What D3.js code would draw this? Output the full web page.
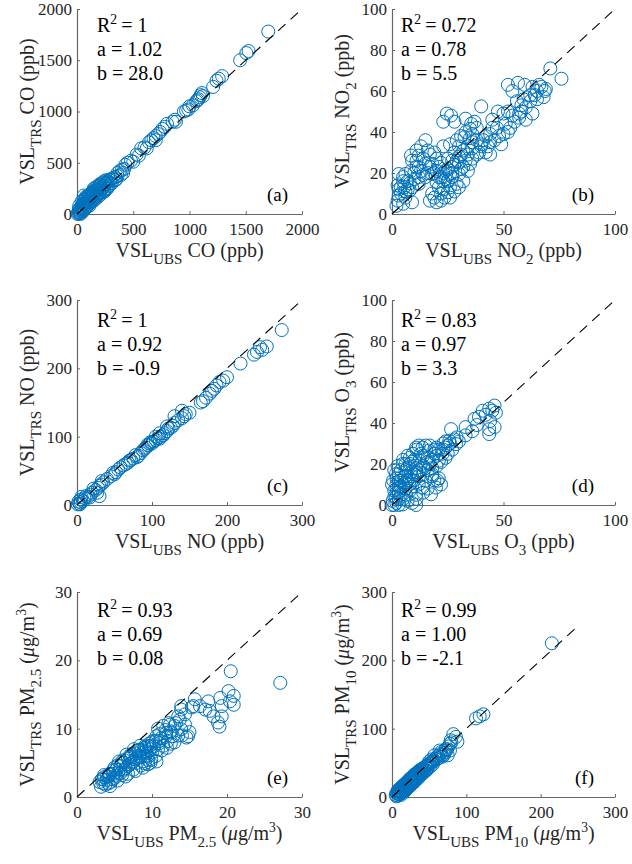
<!DOCTYPE html>
<html>
<head>
<meta charset="utf-8">
<script src="https://cdn.jsdelivr.net/npm/d3@7"></script>
<style>
  body { margin: 0; background: #fff; }
  svg { display: block; }
</style>
</head>
<body>
<svg id="chart"></svg>
<script>
var width = 632;
var height = 864;

// scatter data, [UBS, TRS]
var coPts = [[1700,1780],[1525,1590],[1505,1570],[1450,1500],[1290,1345],[1260,1320],[1240,1300],[1210,1240],[1120,1150],[1110,1180],[1100,1160],[1090,1140],[1080,1120],[1070,1110],[1060,1100],[1030,1060],[1000,1050],[990,1020],[970,1010],[950,1000],[880,900],[870,920],[850,900],[800,880],[780,850],[760,830],[740,800],[720,780],[700,760],[700,720],[680,740],[660,720],[640,700],[620,640],[600,650],[570,640],[550,570],[530,580],[500,510],[480,520],[450,500],[430,480],[420,440],[410,400],[400,430],[390,380],[380,420],[360,400],[360,370],[350,340],[340,360],[340,330],[320,350],[310,300],[300,340],[300,300],[290,330],[280,310],[280,270],[270,320],[270,250],[260,300],[260,250],[260,330],[250,290],[250,310],[240,270],[240,230],[240,320],[245,220],[230,250],[230,210],[220,260],[220,300],[210,240],[210,280],[205,185],[200,270],[200,210],[200,200],[200,290],[190,250],[190,170],[180,230],[180,190],[180,270],[170,200],[170,240],[165,150],[160,220],[160,160],[160,250],[150,250],[150,190],[150,130],[140,180],[140,140],[140,220],[130,170],[130,210],[125,110],[120,150],[120,120],[120,200],[110,190],[110,160],[110,80],[100,130],[100,90],[100,180],[95,170],[90,110],[90,150],[85,70],[80,120],[80,60],[80,170],[75,100],[70,140],[70,90],[70,50],[60,180],[60,100],[60,40],[60,140],[55,70],[50,60],[50,20],[50,100],[45,80],[45,30],[40,50],[40,120],[35,40],[30,60],[30,0],[30,10],[25,30],[20,50],[20,20],[20,80],[15,40],[15,15],[10,10],[5,0]];

var no2Pts = [[71,71],[76,66],[52,63],[54,60],[56.5,64],[59.5,63],[63,62],[66,63],[68.5,60],[68,57],[65,56],[62,55],[59,56],[63,49],[57,49],[54,48],[52,50],[50,49],[40,52.5],[47.5,50],[47,42],[50,39],[52,40],[44,39],[41,36],[43,33],[40,33],[49,34],[45,42],[24.6,49],[23,45],[26.5,48],[28,45],[33,46.5],[35.5,44],[35,41.6],[36,39],[32.5,37.5],[29,36],[26,34],[23,33],[15,36],[13,33],[11,31],[17,29],[12,28.5],[9,26],[11,23],[8.5,21],[6,19.5],[3,19.5],[5,16],[2.5,14],[5.5,13],[8,11.5],[4,10],[6,8],[2.5,6.5],[5,5],[9,13],[12,14.7],[15,18],[18,19.5],[20,15.5],[21,13],[18,10],[17,6.5],[20,5.7],[22,6.5],[23.5,8],[25,10.6],[23,16],[26,19.5],[27,23],[29,26],[30,28],[32,31],[34,29],[36,32],[39,30],[42,30],[44,29],[35,24.5],[32,23],[30,19.5],[27,18],[29,14.7],[32,16],[26,13],[24,21],[21,23],[18,24.5],[17,23],[15,24.5],[12,23],[5,18],[11,26],[8.5,28.5],[2,4],[9,5.7],[22,18],[24,17],[25,22],[27,20],[28,24],[30,25],[31,22],[33,26],[34,33],[36,35],[38,36],[33,40],[31,38],[20,27],[19,30],[16,31],[14,27],[13,21],[10,20],[7,16],[4,13],[3,9],[7,12],[10,17],[12,18],[19,20],[21,18],[23,12],[26,8],[28,11],[30,13],[55,45],[58,50],[60,52],[62,58],[65,60],[67,62],[56,55],[48,38],[46,36],[44,35],[42,38],[38,42],[37,45],[53,42],[51,44],[57,47],[60,46],[34,21],[36,27],[38,29],[40,34],[30,33],[28,30],[25,27],[22,25],[20,21],[23,20],[25,16],[22,10],[19,8],[16,20],[14,19],[8,15],[6,11],[3,12],[27,26],[31,29],[35,37],[45,46],[58,53],[64,58],[69,61]];

var noPts = [[273,256],[253,232],[247,227],[244,231],[240,224],[236,220],[218,207],[200,187],[195,182],[190,180],[186,175],[183,170],[180,167],[177,163],[172,157],[168,152],[165,150],[150,135],[145,133],[143,130],[140,138],[140,127],[135,124],[130,130],[130,120],[128,116],[125,113],[122,112],[120,115],[120,108],[117,105],[115,102],[112,100],[110,105],[110,97],[108,98],[105,100],[105,95],[102,93],[100,90],[98,92],[97,90],[95,87],[94,88],[92,84],[90,82],[88,80],[85,76],[82,72],[80,70],[78,73],[75,68],[72,66],[70,65],[68,62],[65,60],[62,58],[58,55],[55,52],[52,48],[50,45],[48,47],[45,42],[40,38],[35,33],[33,35],[32,30],[30,28],[30,13],[28,25],[27,18],[25,22],[22,24],[20,18],[18,15],[17,11],[15,12],[12,13],[10,10],[8,6],[6,12],[5,8],[5,4],[4,1],[3,2],[2,5],[1,1]];

var o3Pts = [[40.7,46],[43.6,47],[46,48.5],[46.6,45],[39,43],[37,42],[44,41],[43.6,37],[43.6,34.6],[46,38],[42,44],[45,46],[26.5,37],[33,34],[33,38],[36,36],[38,39],[28.7,29.7],[25.7,31.4],[24,28],[22.7,25],[21,21.6],[20.4,11.8],[22,10],[18,15],[15,18],[10.8,28],[13.7,28],[16.7,26.5],[19,25],[9.3,25],[7,24],[4.8,20],[2.5,19],[1.8,15],[3.3,11.8],[5.5,13.4],[8.5,16],[10.8,18],[12.3,21.6],[15,11.8],[10.8,5],[6.3,5],[4.8,0.3],[10.8,0],[1.8,3.6],[0.3,2],[1,7],[0,10],[3.3,8.5],[7.8,10],[13.7,8.5],[17.5,5.2],[19.7,8.5],[24,31],[25,29],[26,30],[23,27],[21,27],[20,24],[18,22],[17,20],[16,23],[14,24],[13,25],[12,29],[11,27],[9,21],[8,20],[7,18],[6,17],[5,22],[4,17],[3,15],[2,13],[6,14],[5,10],[7,12],[9,14],[10,12],[12,14],[14,15],[16,17],[18,18],[20,19],[22,21],[24,23],[25,25],[27,27],[28,32],[29,33],[30,31],[23,30],[20,28],[19,27],[17,29],[15,29],[13,20],[11,16],[9,9],[8,7],[4,5],[3,3],[2,1],[1,0],[5,3],[7,2],[6,8],[3,6],[2,10],[0.5,12],[1,4],[2,8],[4,12],[19,12],[18,14],[21,13],[16,8],[14,6],[12,10],[11,3],[9,1],[6,20],[8,23],[10,22],[4,9],[6,11],[8,12],[10,15],[12,17],[14,19],[16,21],[1,17],[2,6],[0,0],[3,0]];

var pm25Pts = [[27.1,16.7],[20.5,18.4],[20.2,15.5],[20.9,14.8],[20.4,14],[20.9,13.5],[19.1,14.5],[19.3,13.3],[19.3,11.8],[18.8,10.9],[19,10.3],[17.7,12.6],[18.2,11.8],[17.1,12.8],[16.4,13.3],[15.5,13.3],[15.7,14.3],[17.5,14],[15.3,13.1],[14.4,12.1],[13.9,13.3],[13.9,12.8],[13.7,11.3],[14.4,10.6],[14.8,8.9],[13.9,9.9],[13,10.4],[12.4,10.6],[11.9,9.4],[12.8,8.9],[12.1,8.2],[11,7.9],[10.6,8.9],[10.1,8.2],[9.7,7.5],[9.2,6.7],[9.9,5.5],[9,6],[3.2,1.5],[3.5,2],[3.3,2.6],[3.8,1.8],[4,2.5],[4.2,3],[3.6,3.2],[4.5,2.2],[4.8,3.4],[5,2.8],[5.2,4],[4.8,3.9],[5.5,3.6],[5.8,4.5],[6,3.2],[6.2,5],[5.6,5.2],[6.5,4.2],[6.8,5.6],[7,4.8],[7.2,6],[6.6,6.2],[7.5,5.2],[7.8,6.4],[8,5],[8.2,6.8],[7.6,7],[8.5,5.8],[8.8,6.5],[9,7.2],[8.4,7.5],[9.4,6],[9.6,7.8],[10,6.5],[10.2,7.4],[9.8,5],[10.5,8.2],[10.8,7],[11.2,8.6],[11.5,7.5],[11,9.2],[11.8,9.8],[12.2,10.8],[12.6,9.4],[13.2,10.8],[13.5,11.8],[14,9],[14.6,8.7],[15,9.5],[12.5,7.8],[10.6,5.2],[9.5,4.8],[8.8,4.3],[7.8,3.8],[6.8,3.4],[5.4,2.4],[4.4,1.6],[3,2.2],[5.4,4.6],[6.3,5.4],[7.3,6.3],[8.3,6.9],[9.3,7.4],[4.3,3.3],[3.6,2.9],[3.5,2.6],[4.2,2],[4.8,2.6],[5.3,3.1],[5.8,3.5],[6.3,4],[6.8,4.5],[7.3,5],[7.8,5.5],[8.3,6],[8.8,5.2],[9.3,6.4],[9.8,7],[4,3],[5,4.3],[6,5.2],[7,6],[8,6.8],[9,7.4],[10,8],[11,8.2],[11.8,8.8],[12.5,9.6],[13,8],[13.5,9],[11.5,10.4],[10.8,10],[6.5,3],[7.5,4],[8.5,4.6],[9.5,5.4],[10.5,6],[11.3,6.8],[12,7.2],[4.4,3.4],[5.7,4],[7.1,5.8],[8.6,6.9],[9.1,4.9]];

var pm10Pts = [[215,225],[113,115],[118,118],[123,121],[86,88],[82.5,92],[88,81],[79,83],[73,68],[75,61],[64,68],[68,59],[57,61],[55,51],[50,49],[46,39],[41,42],[37,34],[5,3],[7,5],[8,8],[9,4],[10,7],[11,10],[12,6],[13,9],[14,12],[15,10],[16,14],[17,12],[18,16],[19,14],[20,18],[21,16],[22,20],[23,18],[24,22],[25,20],[26,24],[27,22],[28,26],[29,24],[30,28],[31,26],[32,30],[33,28],[34,32],[35,30],[36,35],[38,33],[39,37],[40,35],[42,40],[43,38],[45,44],[47,42],[48,46],[52,50],[53,55],[56,53],[58,56],[60,58],[62,60],[65,63],[66,66],[70,65],[72,70],[76,74],[78,78],[80,80],[8,10],[10,12],[12,14],[14,16],[16,18],[18,20],[20,22],[22,24],[24,27],[26,28],[28,30],[30,33],[32,34],[34,36],[36,38],[38,40],[12,3],[15,6],[18,9],[20,12],[22,14],[25,17],[28,20],[30,22],[6,6],[9,9],[11,8],[13,13],[15,15],[17,17],[19,19],[21,21],[23,23],[25,25],[27,27],[29,29],[31,31],[33,33],[35,35],[37,37],[40,40],[44,42],[46,46],[50,52],[54,52],[10,4],[14,8],[17,10],[19,11],[23,15],[26,19],[32,25],[35,27],[38,31],[41,34],[44,37],[48,41],[52,45],[55,48],[60,55],[63,57],[67,61],[70,62],[74,70],[78,68],[8,2],[6,1]];

// tick labels
var coTicks = [0, 500, 1000, 1500, 2000];
var ppb100XTicks = [0, 50, 100];
var ppb100YTicks = [0, 20, 40, 60, 80, 100];
var noTicks = [0, 100, 200, 300];
var pm25Ticks = [0, 10, 20, 30];
var pm10Ticks = [0, 100, 200, 300];

// fit statistics shown in each panel
var r2Values = ["1", "0.72", "1", "0.83", "0.93", "0.99"];
var aValues = ["1.02", "0.78", "0.92", "0.97", "0.69", "1.00"];
var bValues = ["28.0", "5.5", "-0.9", "3.3", "0.08", "-2.1"];
var panelTags = ["(a)", "(b)", "(c)", "(d)", "(e)", "(f)"];

// label pieces: [text, kind]
var species = [
    [["CO", ""], [" (ppb)", ""]],
    [["NO", ""], ["2", "sub"], [" (ppb)", ""]],
    [["NO", ""], [" (ppb)", ""]],
    [["O", ""], ["3", "sub"], [" (ppb)", ""]],
    [["PM", ""], ["2.5", "sub"], [" (", ""], ["\u03bc", "it"], ["g/m", ""], ["3", "sup"], [")", ""]],
    [["PM", ""], ["10", "sub"], [" (", ""], ["\u03bc", "it"], ["g/m", ""], ["3", "sup"], [")", ""]]
];

var panels = [
    {pts: coPts, max: 2000, xt: coTicks, yt: coTicks, lineMax: 2000},
    {pts: no2Pts, max: 100, xt: ppb100XTicks, yt: ppb100YTicks, lineMax: 100},
    {pts: noPts, max: 300, xt: noTicks, yt: noTicks, lineMax: 300},
    {pts: o3Pts, max: 100, xt: ppb100XTicks, yt: ppb100YTicks, lineMax: 100},
    {pts: pm25Pts, max: 30, xt: pm25Ticks, yt: pm25Ticks, lineMax: 30},
    {pts: pm10Pts, max: 300, xt: pm10Ticks, yt: pm10Ticks, lineMax: 250}
];

var colLeft = [77, 392];
var colWidth = [225, 223];
var rowTop = [9, 300, 592];
var rowStatOffset = [23, 27, 25];
var plotH = 205;
var serif = "Liberation Serif, Times New Roman, serif";
var blue = "#0072BD";

var svg = d3.select("#chart")
    .attr("width", width)
    .attr("height", height)
    .style("font-family", serif);

svg.append("rect").attr("width", width).attr("height", height).attr("fill", "#fff");

// writes pieces with sub/superscripts into a text element
function richText(textSel, pieces, size) {
    var shift = 0;
    pieces.forEach(function(p) {
        var t = textSel.append("tspan").text(p[0]);
        var target = 0;
        if (p[1] == "sub") { target = 7; t.attr("font-size", size * 0.75); }
        else if (p[1] == "sup") { target = -8; t.attr("font-size", size * 0.68); }
        else if (p[1] == "it") { t.attr("font-style", "italic"); }
        if (target != shift) { t.attr("dy", target - shift); shift = target; }
    });
}

panels.forEach(function(p, i) {
    var col = i % 2, row = Math.floor(i / 2);
    var left = colLeft[col], w = colWidth[col];
    var top = rowTop[row], bottom = top + plotH;

    var x = d3.scaleLinear().domain([0, p.max]).range([left, left + w]);
    var y = d3.scaleLinear().domain([0, p.max]).range([bottom, top]);

    var g = svg.append("g");

    var xAxis = d3.axisBottom(x).tickValues(p.xt).tickFormat(d3.format("d"))
        .tickSizeInner(-3).tickSizeOuter(0).tickPadding(9);
    var yAxis = d3.axisLeft(y).tickValues(p.yt).tickFormat(d3.format("d"))
        .tickSizeInner(-3).tickSizeOuter(0).tickPadding(5);

    [g.append("g").attr("transform", `translate(0, ${bottom})`).call(xAxis),
     g.append("g").attr("transform", `translate(${left}, 0)`).call(yAxis)]
        .forEach(function(ax) {
            ax.attr("font-family", serif).attr("font-size", 17).attr("color", "#262626");
            ax.select(".domain").attr("stroke", "#666").attr("stroke-width", 1.2);
            ax.selectAll(".tick line").attr("stroke", "#666");
        });

    g.append("g")
        .selectAll("circle")
        .data(p.pts)
        .enter()
        .append("circle")
        .attr("cx", d => x(d[0]))
        .attr("cy", d => y(d[1]))
        .attr("r", 6.5)
        .attr("fill", "none")
        .attr("stroke", blue)
        .attr("stroke-width", 1);

    g.append("line")
        .attr("x1", x(0)).attr("y1", y(0))
        .attr("x2", x(p.lineMax)).attr("y2", y(p.lineMax))
        .attr("stroke", "#000")
        .attr("stroke-width", 1.1)
        .attr("stroke-dasharray", "10,7");

    // stats
    var sx = left + (col == 0 ? 20 : 9);
    var sy = top + rowStatOffset[row];
    var r2 = g.append("text").attr("x", sx).attr("y", sy).attr("font-size", 20).attr("fill", "#000");
    richText(r2, [["R", ""], ["2", "sup"], ["\u2009= " + r2Values[i], ""]], 20);
    g.append("text").attr("x", sx).attr("y", sy + 24).attr("font-size", 20)
        .text("a = " + aValues[i]);
    g.append("text").attr("x", sx).attr("y", sy + 48).attr("font-size", 20)
        .text("b = " + bValues[i]);

    g.append("text")
        .attr("x", col == 0 ? 288 : 594)
        .attr("y", bottom - 13)
        .attr("text-anchor", "end")
        .attr("font-size", 19)
        .text(panelTags[i]);

    // axis titles
    var xl = g.append("text")
        .attr("x", left + w / 2)
        .attr("y", bottom + 43)
        .attr("text-anchor", "middle")
        .attr("font-size", 20)
        .attr("fill", "#262626");
    richText(xl, [["VSL", ""], ["UBS", "sub"], [" ", ""]].concat(species[i]), 20);

    var cy = top + plotH / 2;
    var yl = g.append("text")
        .attr("x", left - 43)
        .attr("y", cy)
        .attr("transform", `rotate(-90, ${left - 43}, ${cy})`)
        .attr("text-anchor", "middle")
        .attr("font-size", 20)
        .attr("fill", "#262626");
    richText(yl, [["VSL", ""], ["TRS", "sub"], [" ", ""]].concat(species[i]), 20);
});
</script>
</body>
</html>
